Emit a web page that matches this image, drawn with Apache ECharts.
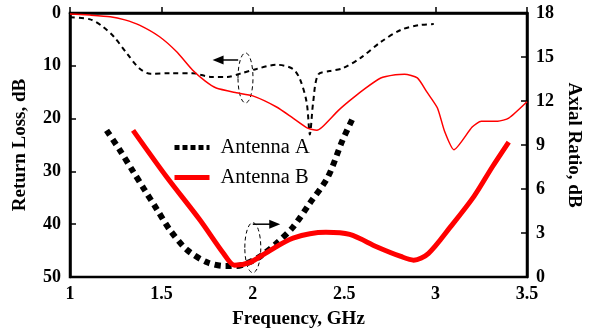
<!DOCTYPE html>
<html>
<head>
<meta charset="utf-8">
<script src="https://cdn.jsdelivr.net/npm/echarts@6/dist/echarts.min.js"></script>
<style>
html, body { margin: 0; padding: 0; background: #fff; }
#chart { width: 589px; height: 331px; }
</style>
</head>
<body>
<div id="chart"></div>
<script>
// return loss (left axis, dB)
const rlFreqA = [1.0, 1.11, 1.18, 1.24, 1.31, 1.38, 1.44, 1.55, 1.67, 1.77, 1.86, 1.94, 2.02, 2.13, 2.22, 2.26, 2.295, 2.312, 2.33, 2.357, 2.42, 2.49, 2.59, 2.7, 2.81, 2.91, 2.99]
const rlA = [0.8, 1.2, 2.6, 4.5, 7.6, 10.5, 11.5, 11.4, 11.4, 12.1, 12.1, 11.4, 10.6, 9.8, 10.6, 12.7, 17, 23, 17, 11.7, 11.0, 10.5, 8.5, 5.5, 3.2, 2.3, 2.1]
const rlFreqB = [1.0, 1.11, 1.22, 1.3, 1.38, 1.49, 1.585, 1.67, 1.74, 1.8, 1.91, 2.0, 2.13, 2.22, 2.3, 2.35, 2.38, 2.47, 2.53, 2.61, 2.7, 2.78, 2.83, 2.9, 2.953, 3.01, 3.05, 3.1, 3.2, 3.25, 3.34, 3.4, 3.5]
const rlB = [0.2, 0.4, 0.7, 1.3, 2.3, 4.5, 7.4, 10.8, 12.9, 14.2, 15.1, 15.7, 17.8, 19.9, 21.8, 22.2, 21.6, 18.4, 16.6, 14.4, 12.3, 11.7, 11.6, 12.3, 15, 18, 22.5, 25.9, 21.6, 20.5, 20.5, 19.9, 16.8]

// axial ratio (right axis, dB)
const arFreqA = [1.2, 1.27, 1.345, 1.41, 1.476, 1.547, 1.64, 1.75, 1.85, 1.91, 1.97, 2.04, 2.13, 2.22, 2.31, 2.41, 2.49, 2.55]
const arA = [10.0, 8.7, 7.2, 5.9, 4.6, 3.2, 1.85, 1.0, 0.75, 0.75, 0.95, 1.4, 2.3, 3.4, 5.0, 6.8, 9.3, 10.9]
const arFreqB = [1.345, 1.53, 1.71, 1.84, 1.9, 1.985, 2.08, 2.22, 2.4, 2.53, 2.68, 2.81, 2.88, 2.96, 3.08, 3.21, 3.31, 3.4]
const arB = [10.0, 6.8, 3.9, 1.6, 0.8, 1.0, 1.7, 2.65, 3.05, 2.9, 2.05, 1.4, 1.15, 1.6, 3.4, 5.5, 7.5, 9.2]

const zip = (xs, ys) => xs.map((x, i) => [x, ys[i]])

const font = 'Liberation Serif'
const tickLabel = { color: '#000', fontFamily: font, fontWeight: 'bold', fontSize: 18 }
const axisName = { color: '#000', fontFamily: font, fontWeight: 'bold', fontSize: 19 }
const axisLine = { show: true, lineStyle: { color: '#000', width: 2.5 } }
const axisTick = { show: true, inside: true, length: 6, lineStyle: { color: '#000', width: 1.5 } }

const chart = echarts.init(document.getElementById('chart'))

chart.setOption({
  animation: false,
  textStyle: { fontFamily: font },
  grid: {
    left: 70, right: 62, top: 13, bottom: 54,
    outerBoundsMode: 'none',
    containLabel: false,
    show: true, borderColor: '#000', borderWidth: 2.5,
  },
  legend: {
    data: [
      { name: 'Antenna A', itemStyle: { opacity: 0 }, lineStyle: { color: '#000', width: 5, type: [5, 3], cap: 'butt' } },
      { name: 'Antenna B', itemStyle: { opacity: 0 }, lineStyle: { color: '#ff0000', width: 5 } },
    ],
    orient: 'vertical',
    left: 172,
    top: 137,
    padding: 0,
    itemWidth: 35,
    itemHeight: 10,
    itemGap: 9,
    textStyle: { color: '#000', fontFamily: font, fontSize: 20.5, padding: [0, 0, 0, 6] },
  },
  xAxis: {
    type: 'value',
    min: 1, max: 3.5, interval: 0.5,
    name: 'Frequency, GHz',
    nameLocation: 'middle',
    nameGap: 33,
    nameTextStyle: axisName,
    axisLine, axisTick,
    axisLabel: { ...tickLabel, margin: 8 },
    splitLine: { show: false },
  },
  yAxis: [
    {
      type: 'value',
      inverse: true,
      min: 0, max: 50, interval: 10,
      name: 'Return Loss, dB',
      nameLocation: 'middle',
      nameGap: 40,
      nameTextStyle: axisName,
      axisLine, axisTick,
      axisLabel: { ...tickLabel, margin: 9 },
      splitLine: { show: false },
    },
    {
      type: 'value',
      position: 'right',
      min: 0, max: 18, interval: 3,
      name: 'Axial Ratio, dB',
      nameLocation: 'middle',
      nameRotate: -90,
      nameGap: 36,
      nameTextStyle: axisName,
      axisLine, axisTick,
      axisLabel: { ...tickLabel, margin: 9 },
      splitLine: { show: false },
    },
  ],
  series: [
    {
      name: 'Antenna A RL',
      type: 'line',
      yAxisIndex: 0,
      data: zip(rlFreqA, rlA),
      symbol: 'none',
      smooth: 0.3,
      lineStyle: { color: '#000', width: 2, type: [5, 4] },
    },
    {
      name: 'Antenna B RL',
      type: 'line',
      yAxisIndex: 0,
      data: zip(rlFreqB, rlB),
      symbol: 'none',
      smooth: 0.2,
      lineStyle: { color: '#ff0000', width: 1.5 },
    },
    {
      name: 'Antenna A',
      type: 'line',
      yAxisIndex: 1,
      data: zip(arFreqA, arA),
      symbol: 'none',
      smooth: 0.3,
      itemStyle: { color: '#000' },
      lineStyle: { color: '#000', width: 6, type: [6, 5], cap: 'butt' },
    },
    {
      name: 'Antenna B',
      type: 'line',
      yAxisIndex: 1,
      data: zip(arFreqB, arB),
      symbol: 'none',
      smooth: 0.3,
      itemStyle: { color: '#ff0000' },
      lineStyle: { color: '#ff0000', width: 5 },
    },
  ],
})

// arrows + ellipses marking which curves belong to which axis
const toLeft = (f, v) => chart.convertToPixel({ xAxisIndex: 0, yAxisIndex: 0 }, [f, v])
const toRight = (f, v) => chart.convertToPixel({ xAxisIndex: 0, yAxisIndex: 1 }, [f, v])

const arrow = (from, to) => {
  const dir = Math.sign(to[0] - from[0])
  return [
    { type: 'line', shape: { x1: from[0], y1: from[1], x2: to[0] - dir * 8, y2: to[1] }, style: { stroke: '#000', lineWidth: 1.5 } },
    { type: 'polygon', shape: { points: [[to[0], to[1]], [to[0] - dir * 11, to[1] - 4.5], [to[0] - dir * 11, to[1] + 4.5]] }, style: { fill: '#000' } },
  ]
}

const c1 = toLeft(1.96, 12.3)
const c2 = toRight(2.0, 2.0)
chart.setOption({
  graphic: [
    { type: 'ellipse', shape: { cx: c1[0], cy: c1[1], rx: 7.5, ry: 25 }, style: { fill: 'none', stroke: '#000', lineWidth: 1, lineDash: [4, 3] } },
    ...arrow(toLeft(1.92, 8.9), toLeft(1.78, 8.9)),
    { type: 'ellipse', shape: { cx: c2[0], cy: c2[1], rx: 8, ry: 25 }, style: { fill: 'none', stroke: '#000', lineWidth: 1, lineDash: [4, 3] } },
    ...arrow(toRight(2.0, 3.6), toRight(2.15, 3.6)),
  ],
})
</script>
</body>
</html>
